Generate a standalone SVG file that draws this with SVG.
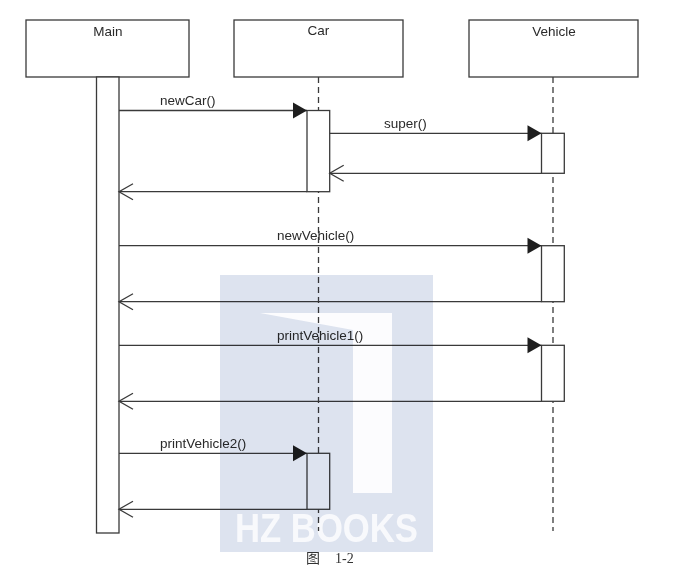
<svg xmlns="http://www.w3.org/2000/svg" width="681" height="572" viewBox="0 0 681 572">
<style>
.box{fill:#fff;stroke:#3a3a3a;stroke-width:1.3}
.life{stroke:#3a3a3a;stroke-width:1.3;stroke-dasharray:6 4;fill:none}
.msg{stroke:#3a3a3a;stroke-width:1.3;fill:none}
.call{marker-end:url(#filled)}
.ret{marker-end:url(#open)}
.lbl{font-family:"Liberation Sans",Arial,sans-serif;font-size:13.5px;fill:#2a2a2a}
.hdr{font-family:"Liberation Sans",Arial,sans-serif;font-size:13.5px;fill:#2a2a2a;text-anchor:middle}
.cap{font-family:"Liberation Serif","Noto Sans CJK SC",serif;font-size:14px;fill:#333}
</style>
<defs>
<marker id="filled" markerUnits="userSpaceOnUse" markerWidth="16" markerHeight="18" refX="14" refY="8" orient="auto" overflow="visible"><path d="M0,0 L14,8 L0,16 Z" fill="#1e1e1e"/></marker>
<marker id="open" markerUnits="userSpaceOnUse" markerWidth="16" markerHeight="18" refX="14" refY="8" orient="auto" overflow="visible"><path d="M0,0 L14,8 L0,16" fill="none" stroke="#3a3a3a" stroke-width="1.3"/></marker>
</defs>
<rect width="681" height="572" fill="#fff"/>

<g id="Main">
<rect class="box" x="26" y="20" width="163" height="57"/>
<text class="hdr" x="108" y="36">Main</text>
<rect class="box" x="96.5" y="77" width="22.5" height="456"/>
</g>

<g id="Car">
<rect class="box" x="234" y="20" width="169" height="57"/>
<text class="hdr" x="318.5" y="35">Car</text>
<line class="life" x1="318.5" y1="77" x2="318.5" y2="531"/>
<rect class="box" x="307" y="110.5" width="22.7" height="81.2"/>
<rect class="box" x="307" y="453.3" width="22.7" height="56"/>
</g>

<g id="Vehicle">
<rect class="box" x="469" y="20" width="169" height="57"/>
<text class="hdr" x="554" y="36">Vehicle</text>
<line class="life" x1="553" y1="77" x2="553" y2="531"/>
<rect class="box" x="541.5" y="133.3" width="22.8" height="40"/>
<rect class="box" x="541.5" y="245.7" width="22.8" height="56"/>
<rect class="box" x="541.5" y="345.3" width="22.8" height="56"/>
</g>

<g id="connectors">
<line class="msg call" x1="119" y1="110.5" x2="307" y2="110.5"/>
<text class="lbl" x="160" y="105">newCar()</text>
<line class="msg call" x1="329.7" y1="133.3" x2="541.5" y2="133.3"/>
<text class="lbl" x="384" y="127.5">super()</text>
<line class="msg ret" x1="541.5" y1="173.3" x2="329.7" y2="173.3"/>
<line class="msg ret" x1="307" y1="191.7" x2="119" y2="191.7"/>
<line class="msg call" x1="119" y1="245.7" x2="541.5" y2="245.7"/>
<text class="lbl" x="277" y="240">newVehicle()</text>
<line class="msg ret" x1="541.5" y1="301.7" x2="119" y2="301.7"/>
<line class="msg call" x1="119" y1="345.3" x2="541.5" y2="345.3"/>
<text class="lbl" x="277" y="340">printVehicle1()</text>
<line class="msg ret" x1="541.5" y1="401.3" x2="119" y2="401.3"/>
<line class="msg call" x1="119" y1="453.3" x2="307" y2="453.3"/>
<text class="lbl" x="160" y="448">printVehicle2()</text>
<line class="msg ret" x1="307" y1="509.3" x2="119" y2="509.3"/>
</g>

<text class="cap" x="306" y="563">图</text>
<text class="cap" x="335" y="563">1-2</text>

<g id="watermark" style="mix-blend-mode:multiply">
<rect x="220" y="275" width="213" height="277" fill="#dde3ef"/>
<polygon points="260,313 392,313 392,493 353,493 353,330" fill="#fcfcfe"/>
<text x="235" y="542" font-family="'Liberation Sans',Arial,sans-serif" font-weight="bold" font-size="40" fill="#f8f9fc" textLength="183" lengthAdjust="spacingAndGlyphs">HZ BOOKS</text>
</g>
</svg>
